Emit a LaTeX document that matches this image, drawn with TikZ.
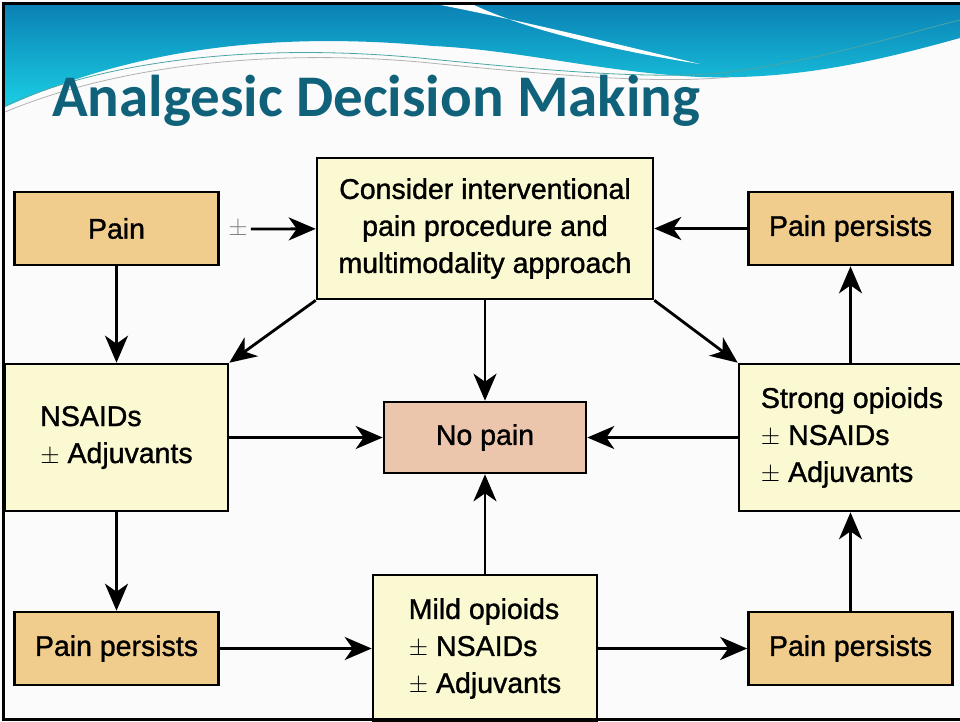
\documentclass[tikz,border=0pt]{standalone}
\usepackage{fontspec}
\setmainfont{Liberation Sans}[FakeBold=1.2]
\newfontfamily\titlefont{Carlito}
\usepackage{xcolor}
\usetikzlibrary{arrows.meta}

\definecolor{painfill}{HTML}{F0CD8C}
\definecolor{drugfill}{HTML}{FAF9D2}
\definecolor{nopainfill}{HTML}{ECC6AC}
\definecolor{titleteal}{HTML}{10617A}
\definecolor{swooshtop}{HTML}{0A80B4}
\definecolor{swooshbot}{HTML}{1BCFE4}

\begin{document}
\begin{tikzpicture}[x=1pt,y=-1pt,
    box/.style={draw=black, line width=2.6pt, inner sep=0pt, align=center,
        font=\fontsize{28.5}{37}\selectfont},
    painbox/.style={box, fill=painfill, minimum width=204pt, minimum height=73pt},
    drugbox/.style={box, fill=drugfill, minimum width=224pt, minimum height=147pt, align=left},
    arr/.style={line width=2.8pt, -{Stealth[length=27pt,width=23pt,inset=8pt]}}]
    \useasboundingbox (0,0) rectangle (960,721);
    \fill[white!97!gray] (0,0) rectangle (960,721);
    % header swoosh
    \shade[top color=swooshtop, bottom color=swooshbot]
        (3,3) -- (960,3) -- (960,38) .. controls (880,60) and (800,80) .. (700,77)
        .. controls (600,72) and (520,50) .. (433,46)
        .. controls (300,34) and (150,40) .. (3,108) -- cycle;
    \fill[white] (430,3) .. controls (520,20) and (620,45) .. (700,64)
        .. controls (610,50) and (520,28) .. (470,3) -- cycle;
    \draw[teal!70, line width=0.8pt] (5,106) .. controls (100,62) and (250,42) .. (420,58)
        .. controls (560,72) and (660,80) .. (730,72) .. controls (820,60) and (900,35) .. (960,20);
    \draw[gray!60, line width=0.8pt] (5,112) .. controls (110,68) and (260,48) .. (420,62)
        .. controls (560,76) and (660,84) .. (730,77);
    \node[font=\titlefont\bfseries\fontsize{59}{62}\selectfont, text=titleteal,
        anchor=base west, inner sep=0pt] (title) at (52,116) {Analgesic Decision Making};

    % boxes
    \node[painbox] (pain) at (116.5,228.5) {Pain};
    \node[box, fill=drugfill, minimum width=336pt, minimum height=141pt] (consider) at (485,228.5)
        {Consider interventional\\pain procedure and\\multimodality approach};
    \node[painbox] (persistsTR) at (850.5,228.5) {Pain persists};
    \node[drugbox, minimum width=223pt] (nsaids) at (116.5,437.5) {NSAIDs\\$\pm$ Adjuvants};
    \node[box, fill=nopainfill, minimum width=202pt, minimum height=71pt] (nopain) at (485,437.5) {No pain};
    \node[drugbox, minimum width=226pt] (strong) at (852,437.5)
        {Strong opioids\\$\pm$ NSAIDs\\$\pm$ Adjuvants};
    \node[painbox] (persistsBL) at (116.5,648.5) {Pain persists};
    \node[drugbox] (mild) at (485,648.5) {Mild opioids\\$\pm$ NSAIDs\\$\pm$ Adjuvants};
    \node[painbox] (persistsBR) at (850.5,648.5) {Pain persists};
    \node[text=gray, font=\fontsize{27}{27}\selectfont, inner sep=3pt] (pm) at (238,229) {$\pm$};

    % connectors
    \draw[arr] (pain) -- (nsaids);
    \draw[arr] (pm) -- (consider);
    \draw[arr] (consider.south west) -- (nsaids.north east);
    \draw[arr] (consider) -- (nopain);
    \draw[arr] (consider.south east) -- (strong.north west);
    \draw[arr] (persistsTR) -- (consider);
    \draw[arr] (persistsTR |- strong.north) -- (persistsTR.south);
    \draw[arr] (nsaids) -- (nopain);
    \draw[arr] (strong) -- (nopain);
    \draw[arr] (nsaids) -- (persistsBL);
    \draw[arr] (persistsBL) -- (mild);
    \draw[arr] (mild) -- (nopain);
    \draw[arr] (mild) -- (persistsBR);
    \draw[arr] (persistsBR.north) -- (persistsBR.north |- strong.south);

    % slide frame
    \draw[line width=3pt] (960,3) -- (3,3) -- (3,719) -- (960,719);
\end{tikzpicture}
\end{document}
